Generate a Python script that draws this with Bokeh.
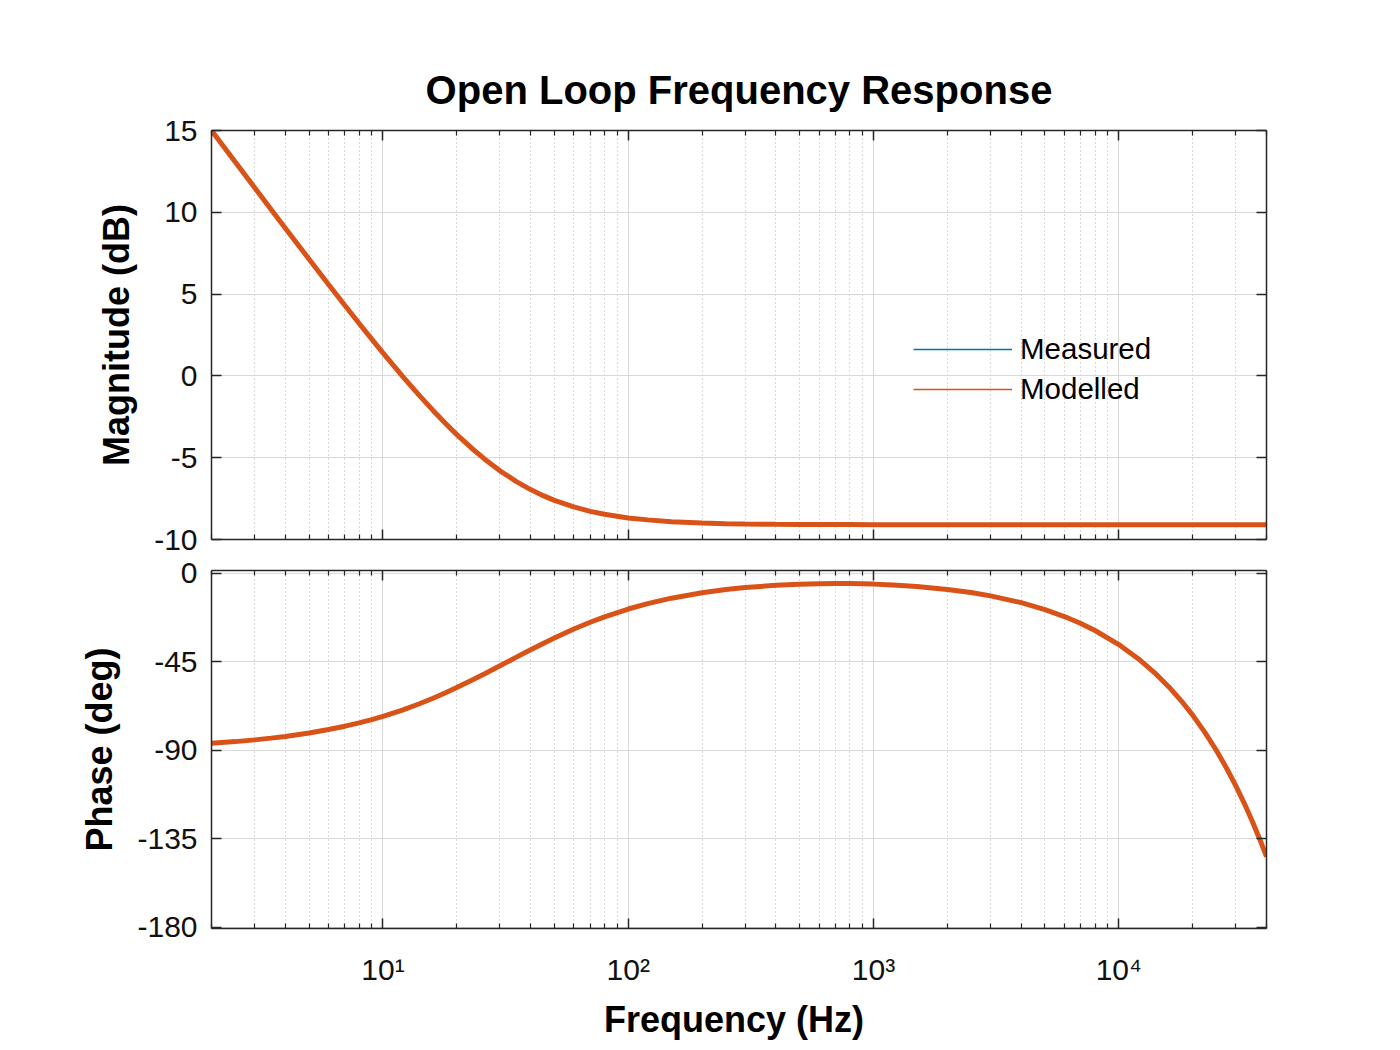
from bokeh.plotting import figure
from bokeh.models import (LogAxis, LinearAxis, FixedTicker, Range1d, Legend,
                          LegendItem)
from bokeh.layouts import column
from bokeh.embed import file_html
from bokeh.resources import INLINE

# ---------------- data ----------------
freq = [2, 2.5, 3, 3.5, 4, 5, 6, 7, 8, 9, 10, 12, 14, 16, 18, 20, 23, 26, 30,
        35, 40, 45, 50, 60, 70, 80, 100, 120, 150, 200, 250, 300, 400, 500,
        600, 700, 800, 1000, 1200, 1500, 2000, 2500, 3000, 4000, 5000, 6000,
        7000, 8000, 10000, 12000, 14000, 16000, 18000, 20000, 22500, 25000,
        27500, 30000, 32500, 35000, 37500, 40000]

mag_modelled = [15.00, 13.07, 11.50, 10.17, 9.03, 7.13, 5.59, 4.30, 3.20, 2.25,
                1.41, -0.01, -1.16, -2.11, -2.91, -3.59, -4.42, -5.09, -5.80,
                -6.46, -6.95, -7.32, -7.61, -8.01, -8.28, -8.46, -8.68, -8.80,
                -8.91, -8.99, -9.03, -9.05, -9.07, -9.08, -9.09, -9.09, -9.09,
                -9.10, -9.10, -9.10, -9.10, -9.10, -9.10, -9.10, -9.10, -9.10,
                -9.10, -9.10, -9.10, -9.10, -9.10, -9.10, -9.10, -9.10, -9.10,
                -9.10, -9.10, -9.10, -9.10, -9.10, -9.10, -9.10]

mag_measured = [15.02, 13.15, 11.56, 10.20, 9.05, 7.14, 5.60, 4.30, 3.20, 2.25,
                1.41, -0.01, -1.16, -2.11, -2.91, -3.59, -4.42, -5.09, -5.80,
                -6.46, -6.95, -7.32, -7.61, -8.01, -8.28, -8.46, -8.68, -8.80,
                -8.91, -8.99, -9.03, -9.05, -9.07, -9.08, -9.09, -9.09, -9.09,
                -9.10, -9.10, -9.10, -9.10, -9.10, -9.10, -9.10, -9.10, -9.10,
                -9.10, -9.10, -9.10, -9.10, -9.10, -9.10, -9.10, -9.10, -9.10,
                -9.10, -9.10, -9.10, -9.10, -9.10, -9.10, -9.10]

phase_modelled = [-86.43, -85.54, -84.65, -83.77, -82.89, -81.14, -79.40,
                  -77.69, -75.99, -74.32, -72.69, -69.48, -66.42, -63.49,
                  -60.70, -58.06, -54.37, -51.00, -46.96, -42.57, -38.80,
                  -35.58, -32.80, -28.29, -24.82, -22.09, -18.10, -15.36,
                  -12.58, -9.81, -8.19, -7.17, -6.01, -5.46, -5.21, -5.14,
                  -5.17, -5.43, -5.85, -6.62, -8.12, -9.73, -11.41, -14.86,
                  -18.37, -21.91, -25.46, -29.03, -36.18, -43.35, -50.53,
                  -57.71, -64.90, -72.09, -81.08, -90.07, -99.07, -108.06,
                  -117.06, -126.05, -135.05, -144.05]

phase_measured = [-86.43, -85.54, -84.65, -83.77, -82.89, -81.14, -79.40,
                  -77.69, -75.99, -74.32, -72.69, -69.48, -66.42, -63.49,
                  -60.70, -58.06, -54.37, -51.00, -46.96, -42.57, -38.80,
                  -35.58, -32.80, -28.29, -24.82, -22.09, -18.10, -15.36,
                  -12.58, -9.81, -8.10, -7.05, -5.85, -5.30, -5.02, -4.95,
                  -5.00, -5.30, -5.75, -6.55, -8.08, -9.70, -11.40, -14.86,
                  -18.37, -21.91, -25.46, -29.03, -36.18, -43.35, -50.53,
                  -57.71, -64.90, -72.09, -81.08, -90.07, -99.07, -108.06,
                  -117.06, -126.05, -135.05, -144.05]

mag_ticks = [-10, -5, 0, 5, 10, 15]
phase_ticks = [-180, -135, -90, -45, 0]
x_major_ticks = [10, 100, 1000, 10000]
x_tick_labels = {10: "10\u00b9", 100: "10\u00b2", 1000: "10\u00b3", 10000: "10\u2074"}

title_text = "Open Loop Frequency Response"
mag_label = "Magnitude (dB)"
phase_label = "Phase (deg)"
freq_label = "Frequency  (Hz)"
series_names = ["Measured", "Modelled"]

# ---------------- style ----------------
FONT = "Liberation Sans"
BLUE = "#0072BD"
ORANGE = "#D95319"
AX = "#262626"
GRID = "#d9d9d9"
MINOR_GRID = "#b5b5b5"
TICK_SIZE = "30px"
LABEL_SIZE = "36px"
TITLE_SIZE = "40px"

x_minor = [m * 10 ** k for k in range(0, 5) for m in range(2, 10)
           if 2 <= m * 10 ** k <= 40000]


def x_ticker():
    return FixedTicker(ticks=x_major_ticks, minor_ticks=x_minor)


def style_axis(ax, ticks, show_labels=True, minor=False):
    ax.axis_line_color = AX
    ax.axis_line_width = 1.5
    ax.major_tick_line_color = AX
    ax.major_tick_line_width = 1.5
    ax.major_tick_in = 10
    ax.major_tick_out = 0
    if minor:
        ax.minor_tick_line_color = AX
        ax.minor_tick_line_width = 1.2
        ax.minor_tick_in = 5
        ax.minor_tick_out = 0
    else:
        ax.minor_tick_line_color = None
    ax.major_label_text_font = FONT
    ax.major_label_text_color = "#111111"
    if show_labels:
        ax.major_label_text_font_size = TICK_SIZE
    else:
        ax.major_label_text_font_size = "2px"
        ax.major_label_text_alpha = 0
        ax.major_label_overrides = {t: "" for t in ticks}
        ax.major_label_standoff = 0
    ax.axis_label_text_font = FONT
    ax.axis_label_text_font_size = LABEL_SIZE
    ax.axis_label_text_font_style = "bold"
    ax.axis_label_text_color = "#000000"


def make_fig(height, x_range, y_range, yticks, top, bottom):
    p = figure(width=1392, height=height, x_axis_type="log",
               x_range=x_range, y_range=y_range, output_backend="svg",
               toolbar_location=None,
               min_border_left=211, min_border_right=126,
               min_border_top=top, min_border_bottom=bottom)
    p.outline_line_color = None
    p.background_fill_color = "white"
    p.border_fill_color = "white"
    bottom_ax = p.below[0]
    left_ax = p.left[0]
    bottom_ax.ticker = x_ticker()
    left_ax.ticker = FixedTicker(ticks=yticks)
    p.xgrid.ticker = x_ticker()
    p.ygrid.ticker = FixedTicker(ticks=yticks)
    p.xgrid.grid_line_color = GRID
    p.xgrid.grid_line_width = 1
    p.xgrid.minor_grid_line_color = MINOR_GRID
    p.xgrid.minor_grid_line_dash = "1 3"
    p.xgrid.minor_grid_line_width = 1
    p.ygrid.grid_line_color = GRID
    p.ygrid.grid_line_width = 1
    top_ax = LogAxis(ticker=x_ticker())
    style_axis(top_ax, x_major_ticks, show_labels=False, minor=True)
    p.add_layout(top_ax, "above")
    right_ax = LinearAxis(ticker=FixedTicker(ticks=yticks))
    style_axis(right_ax, yticks, show_labels=False)
    p.add_layout(right_ax, "right")
    style_axis(left_ax, yticks, show_labels=True)
    left_ax.major_label_overrides = {t: str(t) for t in yticks}
    left_ax.major_label_standoff = 14
    left_ax.axis_label_standoff = 14
    return p, bottom_ax, left_ax


xr = Range1d(2, 40000)

# ---------------- magnitude plot ----------------
p1, p1_bottom, p1_left = make_fig(556, xr, Range1d(-10, 15), mag_ticks, 130, 17)
style_axis(p1_bottom, x_major_ticks, show_labels=False, minor=True)
p1_left.axis_label = mag_label

p1.title.text = title_text
p1.title.align = "center"
p1.title.text_font = FONT
p1.title.text_font_size = TITLE_SIZE
p1.title.text_font_style = "bold"
p1.title.text_color = "#000000"
p1.title.standoff = 37

p1.line(freq, mag_measured, line_color=BLUE, line_width=2)
p1.line(freq, mag_modelled, line_color=ORANGE, line_width=5)

leg_meas = p1.line(freq[:1], mag_modelled[:1], line_color=BLUE, line_width=1.6)
leg_mod = p1.line(freq[:1], mag_modelled[:1], line_color=ORANGE, line_width=1.6)
legend = Legend(items=[LegendItem(label=series_names[0], renderers=[leg_meas]),
                       LegendItem(label=series_names[1], renderers=[leg_mod])],
                location=(702, 133), orientation="vertical",
                glyph_width=99, glyph_height=30, label_height=30,
                label_standoff=8, spacing=6, padding=0, margin=0,
                label_text_font=FONT, label_text_font_size="29.5px",
                label_text_color="#000000",
                background_fill_alpha=0, border_line_alpha=0)
p1.add_layout(legend)

# ---------------- phase plot ----------------
p2, p2_bottom, p2_left = make_fig(486, xr, Range1d(-180.6, 1.5), phase_ticks, 14, 111)
style_axis(p2_bottom, x_major_ticks, show_labels=True, minor=True)
p2_bottom.major_label_overrides = x_tick_labels
p2_bottom.major_label_standoff = 24
p2_bottom.axis_label = freq_label
p2_bottom.axis_label_standoff = 10
p2_left.axis_label = phase_label

p2.line(freq, phase_measured, line_color=BLUE, line_width=2)
p2.line(freq, phase_modelled, line_color=ORANGE, line_width=5)

layout = column(p1, p2, spacing=0)
open("out.html", "w").write(file_html(layout, INLINE))
